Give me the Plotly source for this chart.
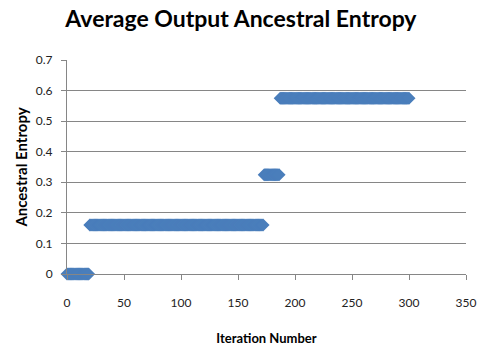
import plotly.graph_objects as go

# Data (iteration -> average output ancestral entropy)
iterations = list(range(0, 301))
entropy = [0.0] * 20 + [0.16] * 153 + [0.325] * 14 + [0.575] * 114

x_ticks = [0, 50, 100, 150, 200, 250, 300, 350]
y_ticks = [0, 0.1, 0.2, 0.3, 0.4, 0.5, 0.6, 0.7]

fig = go.Figure()
fig.add_trace(go.Scatter(
    x=iterations, y=entropy, mode="markers",
    marker=dict(symbol="diamond", size=10, color="#4A7EBB", line=dict(width=0)),
    showlegend=False, cliponaxis=False,
))

font_fam = "Lato, 'Open Sans', sans-serif"
fig.update_layout(
    width=479, height=349,
    margin=dict(l=67, r=13, t=60, b=75, autoexpand=False),
    paper_bgcolor="white", plot_bgcolor="white",
    title=dict(text="<b>Average Output Ancestral Entropy</b>", x=0.503, xanchor="center",
               y=0.945, yanchor="middle",
               font=dict(family=font_fam, size=23, color="black")),
    xaxis=dict(range=[0, 350], tickvals=x_ticks, ticks="outside", ticklen=5,
               tickcolor="#868686", showline=True, linecolor="#868686", linewidth=1,
               showgrid=False, zeroline=False, ticklabelstandoff=13, automargin=False,
               tickfont=dict(family=font_fam, size=12, color="#222"),
               title=dict(text="<b>Iteration Number</b>", standoff=24,
                          font=dict(family=font_fam, size=13, color="black"))),
    yaxis=dict(range=[0, 0.7], tickvals=y_ticks, ticktext=["0", "0.1", "0.2", "0.3", "0.4", "0.5", "0.6", "0.7"],
               ticks="outside", ticklen=5, tickcolor="#868686",
               showline=True, linecolor="#868686", linewidth=1,
               showgrid=True, gridcolor="#868686", gridwidth=1, zeroline=False,
               ticklabelstandoff=6, automargin=False,
               tickfont=dict(family=font_fam, size=12, color="#222"),
               title=dict(text="<b>Ancestral Entropy</b>", standoff=4,
                          font=dict(family=font_fam, size=15, color="black"))),
)
fig.write_html("out.html", config={"displayModeBar": False},
               post_script="document.body.style.margin='0';")
